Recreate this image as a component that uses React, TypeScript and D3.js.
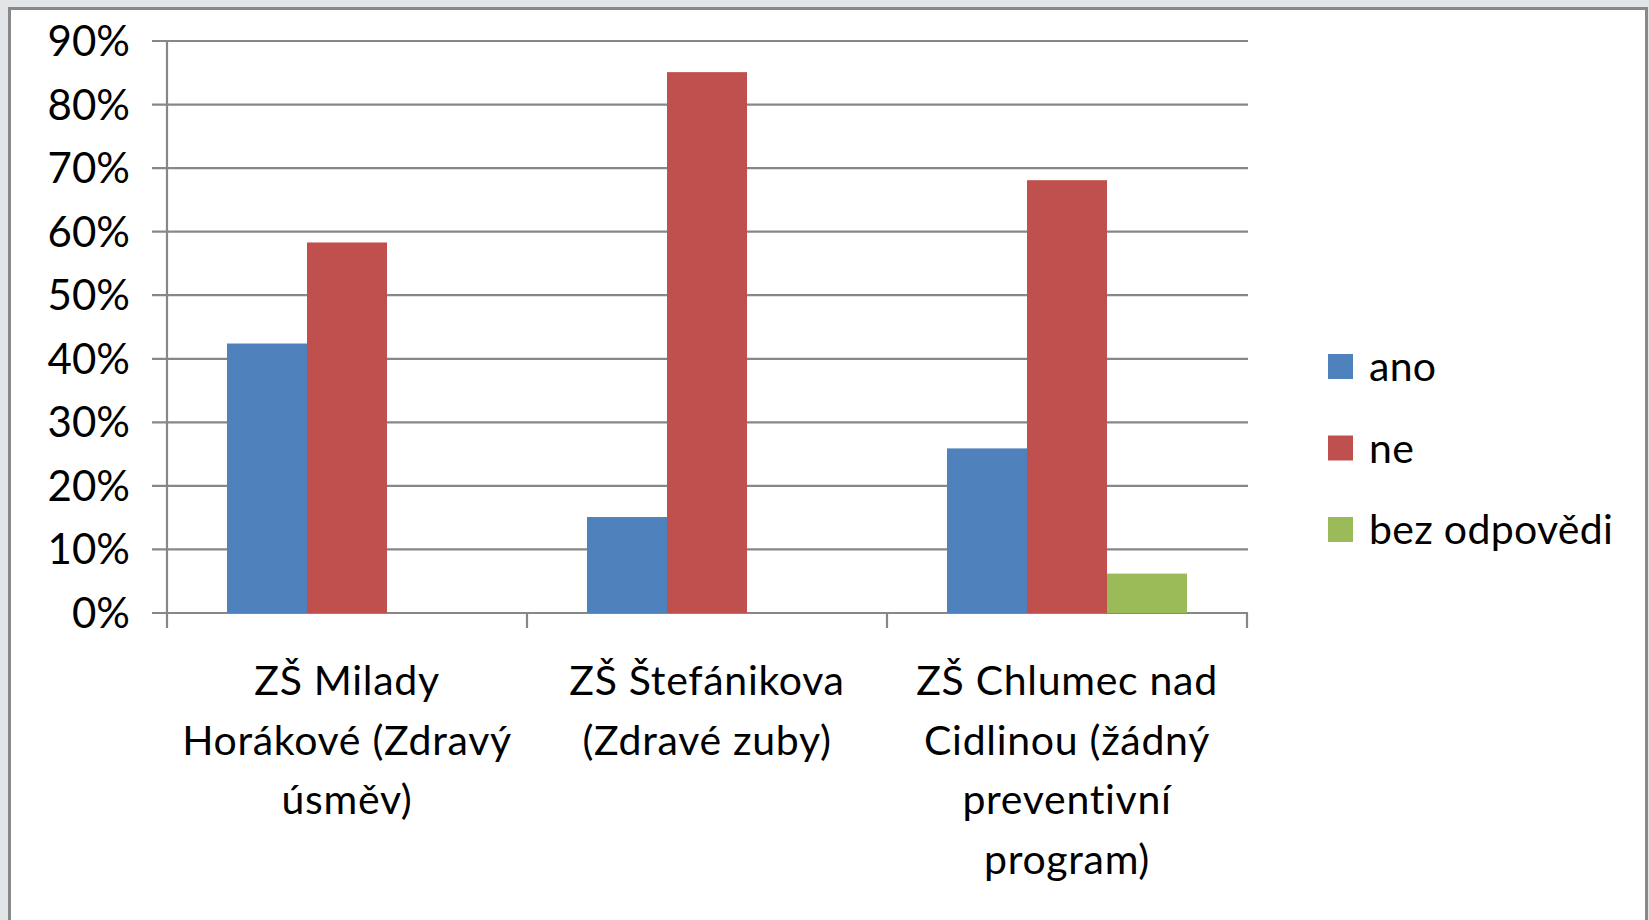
import React, { useEffect, useRef } from 'react';
import * as d3 from 'd3';

// school names, "\n" marks where the label wraps
const categories = [
  'ZŠ Milady\nHorákové (Zdravý\núsměv)',
  'ZŠ Štefánikova\n(Zdravé zuby)',
  'ZŠ Chlumec nad\nCidlinou (žádný\npreventivní\nprogram)',
];
const seriesNames = ['ano', 'ne', 'bez odpovědi'];
const ano = [0.424, 0.151, 0.259];
const ne = [0.583, 0.851, 0.681];
const bezOdpovedi = [0, 0, 0.062];
const seriesColors = ['#4f81bd', '#c0504d', '#9bbb59'];
const yTicks = [0, 0.1, 0.2, 0.3, 0.4, 0.5, 0.6, 0.7, 0.8, 0.9];

const W = 1649;
const H = 920;
const FONT = 'Lato, "Open Sans", sans-serif';

const App = () => {
  const chartRef = useRef<SVGSVGElement>(null);

  useEffect(() => {
    const svg = d3.select(chartRef.current);
    svg.selectAll('*').remove();

    const values = [ano, ne, bezOdpovedi];
    const rows = categories.map((c, i) => ({
      cat: c,
      vals: seriesNames.map((s, j) => ({ name: s, v: values[j][i], color: seriesColors[j] })),
    }));

    const x0 = d3.scaleBand().domain(categories).range([167, 1247]).paddingInner(0).paddingOuter(0);
    const x1 = d3
      .scaleBand()
      .domain(seriesNames)
      .range([0, x0.bandwidth()])
      .paddingInner(0)
      .paddingOuter(0.75);
    const y = d3.scaleLinear().domain([0, 0.9]).range([613, 41]);

    // slide background + chart frame
    svg.append('rect').attr('width', W).attr('height', H).attr('fill', '#e1e5e8');
    svg
      .append('rect')
      .attr('x', 9.5)
      .attr('y', 8.5)
      .attr('width', 1637)
      .attr('height', H)
      .attr('fill', '#ffffff')
      .attr('stroke', '#888888')
      .attr('stroke-width', 3);

    const grid = '#878787';

    svg
      .append('g')
      .selectAll('line')
      .data(yTicks)
      .enter()
      .append('line')
      .attr('x1', 152)
      .attr('x2', 1248)
      .attr('y1', (d) => y(d))
      .attr('y2', (d) => y(d))
      .attr('stroke', grid)
      .attr('stroke-width', 2.2);

    svg
      .append('line')
      .attr('x1', 167)
      .attr('x2', 167)
      .attr('y1', y(0.9))
      .attr('y2', y(0) + 15)
      .attr('stroke', grid)
      .attr('stroke-width', 2.2);

    const tickXs = categories.map((c) => x0(c)!).concat([x0.range()[1]]);
    svg
      .append('g')
      .selectAll('line')
      .data(tickXs.slice(1))
      .enter()
      .append('line')
      .attr('x1', (d) => d)
      .attr('x2', (d) => d)
      .attr('y1', y(0))
      .attr('y2', y(0) + 15)
      .attr('stroke', grid)
      .attr('stroke-width', 2.2);

    const groups = svg
      .append('g')
      .selectAll('g')
      .data(rows)
      .enter()
      .append('g')
      .attr('transform', (d) => `translate(${x0(d.cat)},0)`);

    groups
      .selectAll('rect')
      .data((d) => d.vals.filter((v) => v.v > 0))
      .enter()
      .append('rect')
      .attr('x', (d) => x1(d.name)!)
      .attr('y', (d) => y(d.v))
      .attr('width', x1.bandwidth())
      .attr('height', (d) => y(0) - y(d.v))
      .attr('fill', (d) => d.color);

    // y tick labels
    svg
      .append('g')
      .selectAll('text')
      .data(yTicks)
      .enter()
      .append('text')
      .attr('x', 130)
      .attr('y', (d) => y(d) + 15)
      .attr('text-anchor', 'end')
      .attr('font-family', FONT)
      .attr('font-size', 42)
      .attr('fill', '#000')
      .text((d) => d3.format('.0%')(d));

    // category labels
    const labels = svg
      .append('g')
      .selectAll('text')
      .data(categories)
      .enter()
      .append('text')
      .attr('text-anchor', 'middle')
      .attr('font-family', FONT)
      .attr('font-size', 41)
      .attr('letter-spacing', 0.7)
      .style('font-variant-ligatures', 'none')
      .attr('fill', '#000');
    labels
      .selectAll('tspan')
      .data((d) => d.split('\n').map((line) => ({ line, cx: x0(d)! + x0.bandwidth() / 2 })))
      .enter()
      .append('tspan')
      .attr('x', (d) => d.cx)
      .attr('y', (d, i) => 695 + i * 59.5)
      .text((d) => d.line);

    // legend
    const legend = svg
      .append('g')
      .selectAll('g')
      .data(seriesNames)
      .enter()
      .append('g')
      .attr('transform', (d, i) => `translate(1328,${354 + i * 81.5})`);
    legend
      .append('rect')
      .attr('width', 25)
      .attr('height', 25)
      .attr('fill', (d, i) => seriesColors[i]);
    legend
      .append('text')
      .attr('x', 41)
      .attr('y', 27)
      .attr('font-family', FONT)
      .attr('font-size', 41)
      .attr('letter-spacing', 0.3)
      .style('font-variant-ligatures', 'none')
      .attr('fill', '#000')
      .text((d) => d);
  }, []);

  return (
    <svg
      ref={chartRef}
      width={W}
      height={H}
      style={{ position: 'fixed', left: 0, top: 0, display: 'block' }}
    ></svg>
  );
};

export default App;
